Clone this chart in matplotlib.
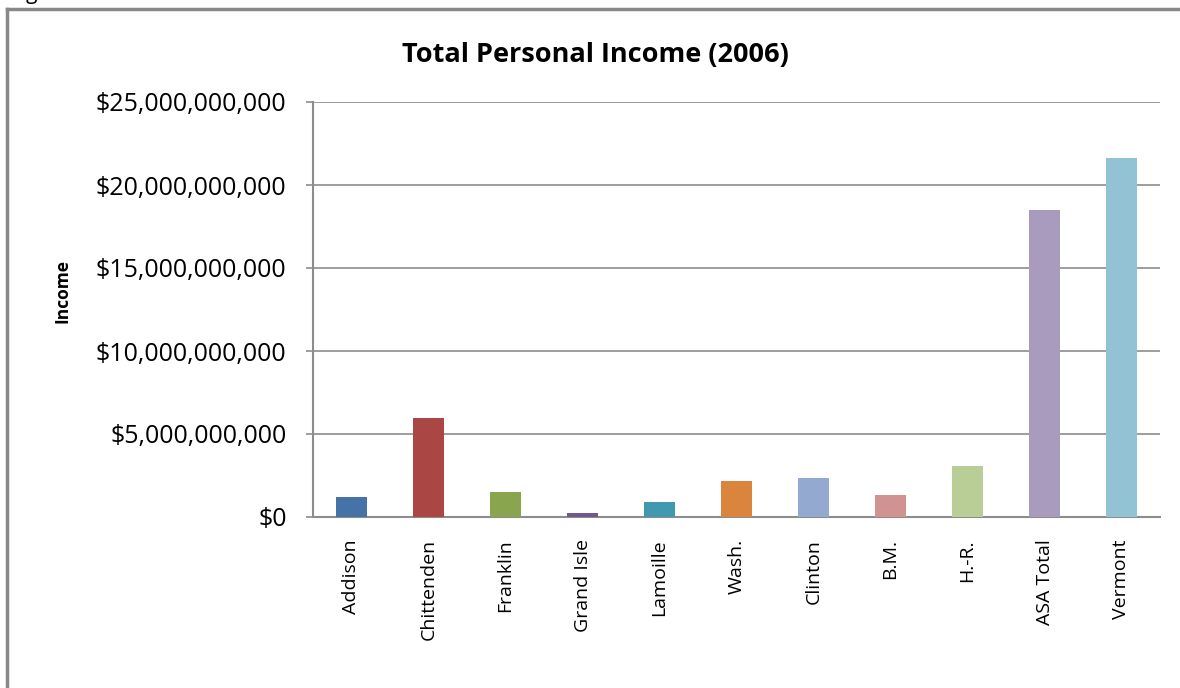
import matplotlib
matplotlib.use("Agg")
import matplotlib.pyplot as plt
from matplotlib.ticker import FuncFormatter, MultipleLocator
from matplotlib.lines import Line2D

categories = ["Addison", "Chittenden", "Franklin", "Grand Isle", "Lamoille", "Wash.",
              "Clinton", "B.M.", "H.-R.", "ASA Total", "Vermont"]
income = [1.20e9, 5.96e9, 1.50e9, 0.26e9, 0.88e9, 2.18e9,
          2.36e9, 1.34e9, 3.05e9, 18.52e9, 21.62e9]
colors = ["#4572A7", "#AA4643", "#89A54E", "#71588F", "#4198AF", "#DB843D",
          "#93A9CF", "#D19392", "#B9CD96", "#A99BBD", "#92C3D4"]
title = "Total Personal Income (2006)"
ylabel = "Income"

plt.rcParams['font.family'] = ['Open Sans', 'DejaVu Sans']

fig = plt.figure(figsize=(11.8, 6.88), dpi=100)
ax = fig.add_axes([313/1180, 1 - 517/688, (1160-313)/1180, (517-102)/688])

x = list(range(len(categories)))
ax.bar(x, income, width=0.4, color=colors, zorder=3)

ax.set_xlim(-0.5, len(categories) - 0.5)
ax.set_ylim(0, 25e9)
ax.yaxis.set_major_locator(MultipleLocator(5e9))
ax.yaxis.set_major_formatter(FuncFormatter(lambda v, p: "${:,.0f}".format(v)))
ax.grid(axis='y', color='#8c8c8c', linewidth=1.2, zorder=0)

for s in ['top', 'right']:
    ax.spines[s].set_visible(False)
for s in ['left', 'bottom']:
    ax.spines[s].set_color('#8c8c8c')
    ax.spines[s].set_linewidth(1.5)

ax.set_xticks(x)
ax.set_xticklabels(categories, rotation=90, fontsize=14)
ax.tick_params(axis='x', length=0, pad=16)
ax.tick_params(axis='y', length=5, width=1.2, color='#8c8c8c', labelsize=18, pad=14)

ax.set_ylabel(ylabel, fontsize=12.5, fontweight='bold')
ax.yaxis.set_label_coords(-0.285, 0.545)
fig.text(595/1180, 1 - 55/688, title, ha='center', va='center',
         fontsize=19.5, fontweight='bold')

# outer frame
fig.add_artist(Line2D([7/1180, 1], [1 - 9/688, 1 - 9/688], color='#888888', linewidth=2.5,
                      transform=fig.transFigure))
fig.add_artist(Line2D([7/1180, 7/1180], [0, 1 - 9/688], color='#888888', linewidth=2.5,
                      transform=fig.transFigure))
fig.text(10/1180, 1 + 1/688, "Figure", ha='left', va='baseline', fontsize=15)

fig.savefig("out.png", dpi=100)
